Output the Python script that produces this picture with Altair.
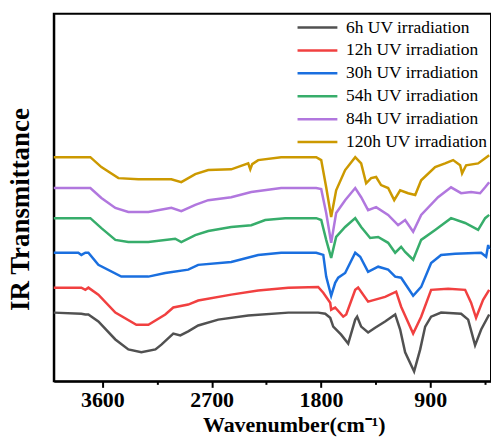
import altair as alt
import pandas as pd

series_names = ["6h UV irradiation", "12h UV irradiation", "30h UV irradiation",
                "54h UV irradiation", "84h UV irradiation", "120h UV irradiation"]
colors = ["#515151", "#F14040", "#1A6FDF", "#37AD6B", "#B177DE", "#CC9900"]

major_ticks = [3600, 2700, 1800, 900]
minor_ticks = [3150, 2250, 1350, 450]

wn_6h = [4000, 3773, 3740, 3715, 3633, 3493, 3386, 3279, 3163, 3114, 3016, 2958, 2893, 2811, 2646,
         2399, 2069, 1823, 1765, 1724, 1699, 1634, 1576, 1518, 1502, 1469, 1412, 1354, 1272, 1189,
         1148, 1107, 1033, 983, 942, 893, 811, 646, 588, 531, 481, 415]
t_6h = [18.7, 18.4, 18.2, 18.2, 16.3, 11.4, 8.7, 7.9, 8.7, 10.0, 13.0, 12.5, 13.6, 15.2, 16.8,
        17.9, 18.7, 18.7, 18.4, 17.3, 14.9, 12.7, 10.3, 16.8, 17.6, 14.9, 13.3, 14.6, 16.3, 18.2,
        14.1, 7.9, 2.7, 8.7, 14.9, 17.6, 18.7, 18.4, 16.8, 9.8, 14.1, 18.2]

wn_12h = [4000, 3773, 3740, 3715, 3633, 3493, 3320, 3221, 3082, 3016, 2893, 2811, 2539, 2317, 2069,
          1823, 1781, 1724, 1716, 1683, 1617, 1592, 1518, 1494, 1412, 1272, 1181, 1140, 1041, 975,
          893, 753, 613, 564, 523, 465, 415]
t_12h = [25.5, 25.5, 24.9, 25.5, 23.6, 18.7, 15.4, 15.4, 18.2, 20.1, 20.9, 22.0, 23.6, 24.7, 25.5,
         25.7, 24.1, 21.4, 19.5, 20.1, 17.6, 18.2, 24.9, 25.5, 21.7, 23.0, 24.4, 20.3, 13.0, 17.6,
         24.9, 25.2, 24.9, 21.4, 17.3, 22.2, 24.9]

wn_30h = [4000, 3798, 3773, 3740, 3715, 3633, 3444, 3304, 3221, 3082, 2893, 2811, 2539, 2317, 2128,
          1839, 1781, 1757, 1716, 1683, 1658, 1601, 1518, 1477, 1412, 1329, 1247, 1189, 1140, 1041,
          975, 893, 811, 695, 481, 440, 423, 415]
t_30h = [35.0, 35.0, 34.4, 35.0, 35.0, 31.7, 28.5, 28.5, 28.5, 29.5, 30.4, 31.7, 32.5, 34.4, 35.0,
         35.0, 34.4, 28.5, 23.3, 26.8, 28.2, 29.5, 35.0, 33.9, 29.8, 31.2, 30.4, 28.5, 28.2, 23.3,
         25.7, 32.2, 34.4, 34.7, 35.0, 33.9, 37.1, 36.0]

wn_54h = [4000, 3699, 3608, 3493, 3386, 3221, 3000, 2950, 2835, 2728, 2539, 2374, 2259, 2094, 1839,
          1798, 1757, 1716, 1675, 1601, 1518, 1469, 1395, 1329, 1247, 1189, 1140, 1107, 1041, 975,
          860, 729, 613, 506, 448, 415]
t_54h = [44.4, 44.4, 41.7, 38.5, 37.9, 37.9, 38.8, 37.9, 39.8, 40.9, 42.0, 42.5, 43.9, 44.4, 44.4,
         43.9, 38.5, 33.6, 39.3, 42.0, 44.4, 42.0, 39.0, 39.3, 37.7, 35.0, 36.6, 35.2, 33.1, 38.5,
         41.2, 44.4, 43.1, 41.2, 44.4, 45.3]

wn_84h = [4000, 3699, 3608, 3493, 3386, 3221, 3032, 2950, 2835, 2728, 2539, 2374, 2128, 1839, 1798,
          1757, 1716, 1675, 1601, 1518, 1469, 1412, 1346, 1247, 1165, 1107, 1041, 975, 836, 729,
          646, 564, 490, 448, 415]
t_84h = [52.6, 52.6, 49.9, 47.2, 46.1, 46.1, 47.2, 46.3, 48.0, 49.3, 50.1, 51.5, 52.6, 52.6, 52.3,
         45.8, 37.7, 45.8, 49.3, 52.6, 50.1, 46.6, 47.4, 45.3, 42.5, 43.9, 40.7, 45.3, 50.1, 52.8,
         51.2, 51.5, 51.2, 52.8, 54.2]

wn_120h = [4000, 3699, 3608, 3468, 3304, 3032, 2950, 2835, 2728, 2539, 2399, 2382, 2366, 2317, 2128,
           1839, 1798, 1757, 1716, 1675, 1601, 1518, 1469, 1428, 1387, 1346, 1305, 1247, 1197, 1148,
           1082, 1024, 975, 860, 778, 712, 654, 638, 605, 506, 448, 415]
t_120h = [61.0, 61.0, 58.3, 55.3, 55.0, 55.0, 54.2, 56.4, 57.5, 57.7, 59.3, 57.7, 59.1, 60.2, 61.0,
          61.0, 60.2, 52.8, 44.7, 52.0, 57.5, 61.0, 59.3, 53.9, 55.3, 55.6, 53.4, 52.6, 49.3, 52.0,
          51.2, 50.7, 54.7, 58.3, 59.3, 60.2, 58.8, 56.6, 58.8, 59.3, 60.7, 61.5]

all_wn = [wn_6h, wn_12h, wn_30h, wn_54h, wn_84h, wn_120h]
all_t = [t_6h, t_12h, t_30h, t_54h, t_84h, t_120h]

frames = []
for name, wn, t in zip(series_names, all_wn, all_t):
    frames.append(pd.DataFrame({"wn": wn, "t": t, "series": name}))
df = pd.concat(frames, ignore_index=True)

SERIF = "Liberation Serif"

x_scale = alt.Scale(domain=[400, 4000], reverse=True, nice=False, zero=False)
y_scale = alt.Scale(domain=[0, 100], nice=False, zero=False)

lines = alt.Chart(df).mark_line(strokeWidth=2.5).encode(
    x=alt.X("wn:Q", scale=x_scale,
            axis=alt.Axis(values=major_ticks, format="d", orient="bottom",
                          labelFont=SERIF, labelFontSize=22, labelFontWeight="bold",
                          labelColor="black", labelPadding=2,
                          tickSize=6, tickWidth=2, tickColor="black",
                          domainColor="black", domainWidth=2, grid=False,
                          title="Wavenumber(cm⁻¹)", titleFont=SERIF, titleFontSize=22,
                          titleFontWeight="bold", titleColor="black",
                          titleX=241, titleY=50, titleBaseline="alphabetic",
                          titleAlign="center")),
    y=alt.Y("t:Q", scale=y_scale,
            axis=alt.Axis(labels=False, ticks=False, grid=False,
                          domainColor="black", domainWidth=2,
                          title="IR Transmittance", titleFont=SERIF, titleFontSize=27,
                          titleFontWeight="bold", titleColor="black",
                          titleX=-25, titleY=196, titleBaseline="alphabetic",
                          titleAlign="center", titleAngle=270)),
    color=alt.Color("series:N",
                    scale=alt.Scale(domain=series_names, range=colors),
                    legend=alt.Legend(orient="none", legendX=256, legendY=5, title=None,
                                      symbolType="M-4,0H4", symbolSize=100,
                                      symbolStrokeWidth=2.5, labelFont=SERIF,
                                      labelFontSize=17.5, labelColor="black",
                                      labelLimit=300, rowPadding=4, labelOffset=20)),
)

minor = alt.Chart(df).mark_point(opacity=0).encode(
    x=alt.X("wn:Q", scale=x_scale,
            axis=alt.Axis(values=minor_ticks, labels=False, domain=False, orient="bottom",
                          tickSize=3, tickWidth=2, tickColor="black", grid=False, title=None)),
    y=alt.value(0),
)

chart = alt.layer(lines, minor).resolve_axis(x="independent").properties(
    width=439, height=369,
    autosize=alt.AutoSizeParams(type="none"),
    padding={"left": 54, "top": 13, "right": 0, "bottom": 63},
    background="white",
).configure_view(stroke="black", strokeWidth=2)

chart.save("out.html", embed_options={"renderer": "svg", "actions": False})
